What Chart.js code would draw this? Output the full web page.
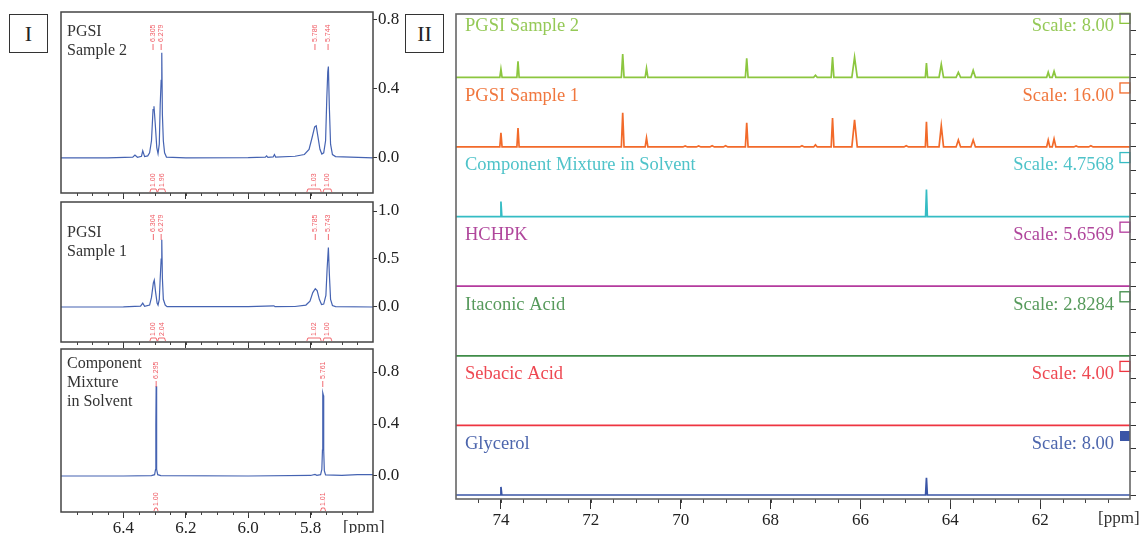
<!DOCTYPE html>
<html>
<head>
<meta charset="utf-8">
<script src="https://cdn.jsdelivr.net/npm/chart.js@4.4.1/dist/chart.umd.min.js"></script>
<style>
  body { margin: 0; background: #fff; width: 1145px; height: 533px; overflow: hidden; position: relative; font-family: "Liberation Serif", "Times New Roman", serif; }
  canvas { position: absolute; }
  .roman { position: absolute; box-sizing: border-box; border: 1px solid #333; width: 39px; height: 39px; text-align: center; font-size: 22px; line-height: 37px; color: #222; }
  .lbl { position: absolute; font-size: 16px; line-height: 19px; color: #333; white-space: nowrap; }
</style>
</head>
<body>
<div class="roman" style="left:9px;top:14px">I</div>
<div class="roman" style="left:405px;top:14px">II</div>

<canvas id="sub1" width="405" height="206" style="left:0;top:0"></canvas>
<canvas id="sub2" width="405" height="165" style="left:0;top:190px"></canvas>
<canvas id="sub3" width="405" height="196" style="left:0;top:337px"></canvas>
<canvas id="carbon" width="705" height="533" style="left:440px;top:0"></canvas>

<div class="lbl" style="left:67px;top:21px">PGSI<br>Sample 2</div>
<div class="lbl" style="left:67px;top:222px">PGSI<br>Sample 1</div>
<div class="lbl" style="left:67px;top:353px">Component<br>Mixture<br>in Solvent</div>

<script>
// --- PANEL I : 1H spectra, [ppm, intensity] ---
const ppmTicksI = [6.4, 6.2, 6.0, 5.8];

const pgsi2Proton = [
    [6.60, 0.0], [6.45, 0.0], [6.37, 0.005], [6.363, 0.017], [6.355, 0.004], [6.342, 0.01], [6.338, 0.042],
    [6.332, 0.008], [6.322, 0.012], [6.316, 0.03], [6.310, 0.10], [6.305, 0.28], [6.302, 0.30], [6.298, 0.20],
    [6.293, 0.06], [6.289, 0.025], [6.285, 0.08], [6.282, 0.31], [6.279, 0.45], [6.277, 0.61], [6.275, 0.25],
    [6.272, 0.10], [6.268, 0.03], [6.262, 0.005], [6.20, 0.0], [6.00, 0.002], [5.945, 0.005], [5.941, 0.012],
    [5.937, 0.004], [5.92, 0.006], [5.916, 0.02], [5.912, 0.005], [5.85, 0.01], [5.82, 0.02], [5.805, 0.05],
    [5.795, 0.12], [5.787, 0.18], [5.782, 0.186], [5.777, 0.13], [5.770, 0.05], [5.764, 0.023], [5.758, 0.03],
    [5.752, 0.10], [5.748, 0.35], [5.745, 0.50], [5.743, 0.53], [5.740, 0.30], [5.736, 0.08], [5.730, 0.02],
    [5.72, 0.008], [5.60, 0.0]
];
const pgsi1Proton = [
    [6.60, 0.0], [6.40, 0.002], [6.345, 0.008], [6.338, 0.04], [6.332, 0.006], [6.316, 0.02], [6.310, 0.10],
    [6.304, 0.25], [6.301, 0.28], [6.297, 0.16], [6.292, 0.04], [6.289, 0.02], [6.285, 0.08], [6.282, 0.30],
    [6.279, 0.50], [6.277, 0.70], [6.275, 0.30], [6.272, 0.08], [6.266, 0.02], [6.26, 0.004], [6.00, 0.003],
    [5.918, 0.012], [5.914, 0.004], [5.85, 0.005], [5.815, 0.02], [5.802, 0.06], [5.793, 0.15], [5.785, 0.19],
    [5.779, 0.17], [5.772, 0.08], [5.765, 0.025], [5.758, 0.03], [5.751, 0.12], [5.747, 0.40], [5.743, 0.62],
    [5.740, 0.35], [5.736, 0.08], [5.73, 0.015], [5.72, 0.004], [5.60, 0.0]
];
const mixtureProton = [
    [6.60, 0.0], [6.40, 0.0], [6.31, 0.003], [6.300, 0.01], [6.297, 0.05], [6.296, 0.40], [6.295, 0.69],
    [6.294, 0.40], [6.293, 0.05], [6.290, 0.01], [6.28, 0.003], [6.00, 0.0], [5.80, 0.004], [5.786, 0.012],
    [5.780, 0.005], [5.768, 0.01], [5.764, 0.05], [5.762, 0.20], [5.761, 0.64], [5.759, 0.62], [5.758, 0.20],
    [5.756, 0.04], [5.752, 0.008], [5.70, 0.005], [5.65, 0.01], [5.60, 0.01]
];

const yTicksSub1 = [0.0, 0.4, 0.8];
const yTicksSub2 = [0.0, 0.5, 1.0];
const yTicksSub3 = [0.0, 0.4, 0.8];

// peak picks (top, red) and integrals [from, to, value] (bottom, red)
const peaksSub1 = [6.305, 6.279, 5.786, 5.744];
const peaksSub2 = [6.304, 6.279, 5.785, 5.743];
const peaksSub3 = [6.295, 5.761];
const integralsSub1 = [[6.315, 6.292, 1.00], [6.290, 6.265, 1.96], [5.812, 5.766, 1.03], [5.760, 5.732, 1.00]];
const integralsSub2 = [[6.315, 6.292, 1.00], [6.290, 6.265, 2.04], [5.812, 5.766, 1.02], [5.760, 5.732, 1.00]];
const integralsSub3 = [[6.302, 6.289, 1.00], [5.768, 5.752, 1.01]];

// --- PANEL II : 13C traces, peaks as [ppm, height, half width] ---
const ppmTicksII = [74, 72, 70, 68, 66, 64, 62];
const traceNames = ['PGSI Sample 2', 'PGSI Sample 1', 'Component Mixture in Solvent', 'HCHPK', 'Itaconic Acid', 'Sebacic Acid', 'Glycerol'];
const scaleLabels = ['Scale: 8.00', 'Scale: 16.00', 'Scale: 4.7568', 'Scale: 5.6569', 'Scale: 2.8284', 'Scale: 4.00', 'Scale: 8.00'];
const traceColors = ['#8cc63f', '#f26a2a', '#35bcc4', '#b43a9e', '#3f8c48', '#ee3440', '#3a55a6'];
const textColors = ['#95c957', '#f0773e', '#4fc3c9', '#b0479c', '#579a5c', '#ee4852', '#4d66ad'];
const traceOffsets = [18, 15, 12, 9, 6, 3, 0];

const pgsi2Carbon = [
    [74.00, 0.35, 0.025], [73.62, 0.69, 0.025], [71.29, 1.00, 0.03], [70.76, 0.39, 0.03], [68.53, 0.82, 0.03],
    [67.00, 0.09, 0.04], [66.62, 0.87, 0.03], [66.13, 0.87, 0.06], [64.53, 0.61, 0.025], [64.20, 0.56, 0.05],
    [63.82, 0.22, 0.05], [63.49, 0.30, 0.05], [61.82, 0.22, 0.035], [61.69, 0.26, 0.04]
];
const pgsi1Carbon = [
    [74.00, 0.61, 0.025], [73.62, 0.82, 0.025], [71.29, 1.47, 0.03], [70.76, 0.39, 0.03], [69.90, 0.04, 0.05],
    [69.60, 0.04, 0.05], [69.30, 0.05, 0.05], [69.00, 0.05, 0.05], [68.53, 1.04, 0.03], [67.30, 0.05, 0.05],
    [67.00, 0.09, 0.04], [66.62, 1.25, 0.03], [66.13, 1.17, 0.06], [64.98, 0.05, 0.05], [64.53, 1.08, 0.025],
    [64.20, 0.91, 0.05], [63.82, 0.30, 0.05], [63.49, 0.30, 0.05], [61.82, 0.30, 0.035], [61.69, 0.35, 0.04],
    [61.20, 0.04, 0.05], [60.87, 0.05, 0.05]
];
const mixtureCarbon = [[74.00, 0.65, 0.02], [64.53, 1.17, 0.02]];
const hchpkCarbon = [];
const itaconicCarbon = [];
const sebacicCarbon = [];
const glycerolCarbon = [[74.00, 0.35, 0.02], [64.53, 0.74, 0.02]];

const MARK_RED = 'rgba(236, 60, 70, 0.85)';
const SPEC_BLUE = '#4563b2';

Chart.defaults.font.family = '"Liberation Serif", "Times New Roman", serif';
Chart.defaults.color = '#222';

// --- PLUGINS ---

function framePlugin(color, width) {
    return {
        id: 'frame',
        afterDraw(chart) {
            const { ctx, chartArea: a } = chart;
            ctx.save();
            ctx.strokeStyle = color;
            ctx.lineWidth = width;
            ctx.strokeRect(a.left, a.top, a.right - a.left, a.bottom - a.top);
            ctx.restore();
        }
    };
}

function minorTickPlugin(step, len, color) {
    return {
        id: 'minorTicks',
        afterDraw(chart) {
            const { ctx, chartArea: a } = chart;
            const x = chart.scales.x;
            const n = Math.round((x.max - x.min) / step);
            ctx.save();
            ctx.strokeStyle = color;
            ctx.lineWidth = 1;
            for (let i = 1; i < n; i++) {
                const px = Math.round(x.getPixelForValue(x.min + i * step)) + 0.5;
                ctx.beginPath();
                ctx.moveTo(px, a.bottom);
                ctx.lineTo(px, a.bottom + len);
                ctx.stroke();
            }
            ctx.restore();
        }
    };
}

function nmrMarkPlugin(peaks, integrals) {
    return {
        id: 'nmrMarks',
        afterDatasetsDraw(chart) {
            const { ctx, chartArea: a } = chart;
            const x = chart.scales.x;
            ctx.save();
            ctx.fillStyle = MARK_RED;
            ctx.strokeStyle = MARK_RED;
            ctx.lineWidth = 0.9;
            ctx.font = '7px "Liberation Sans"';
            ctx.textBaseline = 'middle';
            ctx.textAlign = 'left';
            peaks.forEach(p => {
                const px = x.getPixelForValue(p);
                ctx.save();
                ctx.translate(px, a.top + 30);
                ctx.rotate(-Math.PI / 2);
                ctx.fillText(p.toFixed(3), 0, 0);
                ctx.restore();
                ctx.beginPath();
                ctx.moveTo(px, a.top + 32);
                ctx.lineTo(px, a.top + 38);
                ctx.stroke();
            });
            integrals.forEach(([from, to, val]) => {
                const x1 = x.getPixelForValue(from), x2 = x.getPixelForValue(to);
                ctx.save();
                ctx.translate((x1 + x2) / 2, a.bottom - 6);
                ctx.rotate(-Math.PI / 2);
                ctx.fillText(val.toFixed(2), 0, 0);
                ctx.restore();
                ctx.beginPath();
                ctx.moveTo(x1, a.bottom - 1);
                ctx.lineTo(x1 + 1, a.bottom - 4);
                ctx.lineTo(x2 - 1, a.bottom - 4);
                ctx.lineTo(x2, a.bottom - 1);
                ctx.stroke();
            });
            ctx.restore();
        }
    };
}

const traceLabelPlugin = {
    id: 'traceLabels',
    afterDatasetsDraw(chart) {
        const { ctx, chartArea: a } = chart;
        const y = chart.scales.y;
        ctx.save();
        ctx.font = '18.5px "Liberation Serif"';
        ctx.textBaseline = 'middle';
        traceNames.forEach((name, i) => {
            const yb = y.getPixelForValue(traceOffsets[i]);
            ctx.fillStyle = textColors[i];
            ctx.textAlign = 'left';
            ctx.fillText(name, a.left + 9, yb - 51);
            ctx.textAlign = 'right';
            ctx.fillText(scaleLabels[i], a.right - 16, yb - 51);
            ctx.strokeStyle = traceColors[i];
            ctx.fillStyle = traceColors[i];
            ctx.lineWidth = 1.3;
            if (i === traceNames.length - 1) {
                ctx.fillRect(a.right - 10, yb - 64, 10, 10);
            } else {
                ctx.strokeRect(a.right - 10, yb - 64, 10, 10);
            }
        });
        ctx.restore();
    }
};

// --- PANEL I CHARTS ---

function protonChart(id, points, yMin, yMax, yTicks, xHeight, showX, peaks, integrals) {
    return new Chart(document.getElementById(id), {
        type: 'scatter',
        data: {
            datasets: [{
                data: points.map(p => ({ x: p[0], y: p[1] })),
                showLine: true,
                borderColor: SPEC_BLUE,
                borderWidth: 1.2,
                pointRadius: 0,
                tension: 0
            }]
        },
        options: {
            responsive: false,
            animation: false,
            layout: { padding: { left: 61, top: 12, right: 0, bottom: 0 } },
            plugins: { legend: { display: false }, tooltip: { enabled: false } },
            scales: {
                x: {
                    type: 'linear', reverse: true, min: 5.6, max: 6.6,
                    afterBuildTicks: s => { s.ticks = ppmTicksI.map(v => ({ value: v })); },
                    afterFit: s => { s.height = xHeight; },
                    ticks: { display: showX, autoSkip: false, maxRotation: 0, padding: 0, font: { size: 17 }, callback: v => v.toFixed(1) },
                    grid: { drawOnChartArea: false, tickLength: 6, color: '#333' },
                    border: { display: false }
                },
                y: {
                    position: 'right', min: yMin, max: yMax,
                    afterBuildTicks: s => { s.ticks = yTicks.map(v => ({ value: v })); },
                    afterFit: s => { s.width = 32; },
                    ticks: { padding: 1, font: { size: 17 }, callback: v => v.toFixed(1) },
                    grid: { drawOnChartArea: false, tickLength: 4, color: '#333' },
                    border: { display: false }
                }
            }
        },
        plugins: [nmrMarkPlugin(peaks, integrals), minorTickPlugin(0.05, 3, '#444'), framePlugin('#444', 1.5)]
    });
}

protonChart('sub1', pgsi2Proton, -0.203, 0.846, yTicksSub1, 13, false, peaksSub1, integralsSub1);
protonChart('sub2', pgsi1Proton, -0.365, 1.094, yTicksSub2, 13, false, peaksSub2, integralsSub2);
protonChart('sub3', mixtureProton, -0.277, 0.977, yTicksSub3, 21, true, peaksSub3, integralsSub3);

// --- PANEL II CHART ---

function buildTrace(peaks, offset) {
    const pts = [{ x: 75, y: offset }];
    peaks.forEach(([p, h, w]) => {
        pts.push({ x: p + w, y: offset }, { x: p, y: offset + h }, { x: p - w, y: offset });
    });
    pts.push({ x: 60, y: offset });
    return pts;
}

const carbonTraces = [pgsi2Carbon, pgsi1Carbon, mixtureCarbon, hchpkCarbon, itaconicCarbon, sebacicCarbon, glycerolCarbon];

new Chart(document.getElementById('carbon'), {
    type: 'scatter',
    data: {
        datasets: carbonTraces.map((peaks, i) => ({
            data: buildTrace(peaks, traceOffsets[i]),
            showLine: true,
            borderColor: traceColors[i],
            borderWidth: 1.7,
            pointRadius: 0,
            tension: 0
        }))
    },
    options: {
        responsive: false,
        animation: false,
        layout: { padding: { left: 16, top: 14, right: 0, bottom: 0 } },
        plugins: { legend: { display: false }, tooltip: { enabled: false } },
        scales: {
            x: {
                type: 'linear', reverse: true, min: 60, max: 75,
                afterBuildTicks: s => { s.ticks = ppmTicksII.map(v => ({ value: v })); },
                afterFit: s => { s.height = 34; },
                ticks: { autoSkip: false, maxRotation: 0, padding: 1, font: { size: 17 } },
                grid: { drawOnChartArea: false, tickLength: 10, color: '#333' },
                border: { display: false }
            },
            y: {
                position: 'right', min: -0.172, max: 20.73,
                ticks: { display: false, stepSize: 1, includeBounds: false },
                afterFit: s => { s.width = 15; },
                grid: { drawOnChartArea: false, tickLength: 6, color: '#333' },
                border: { display: false }
            }
        }
    },
    plugins: [traceLabelPlugin, minorTickPlugin(0.5, 4, '#444'), framePlugin('#666', 1.6)]
});
</script>

<div class="lbl" style="left:343px;top:517px;font-size:17px">[ppm]</div>
<div class="lbl" style="left:1098px;top:508px;font-size:17px">[ppm]</div>
</body>
</html>
